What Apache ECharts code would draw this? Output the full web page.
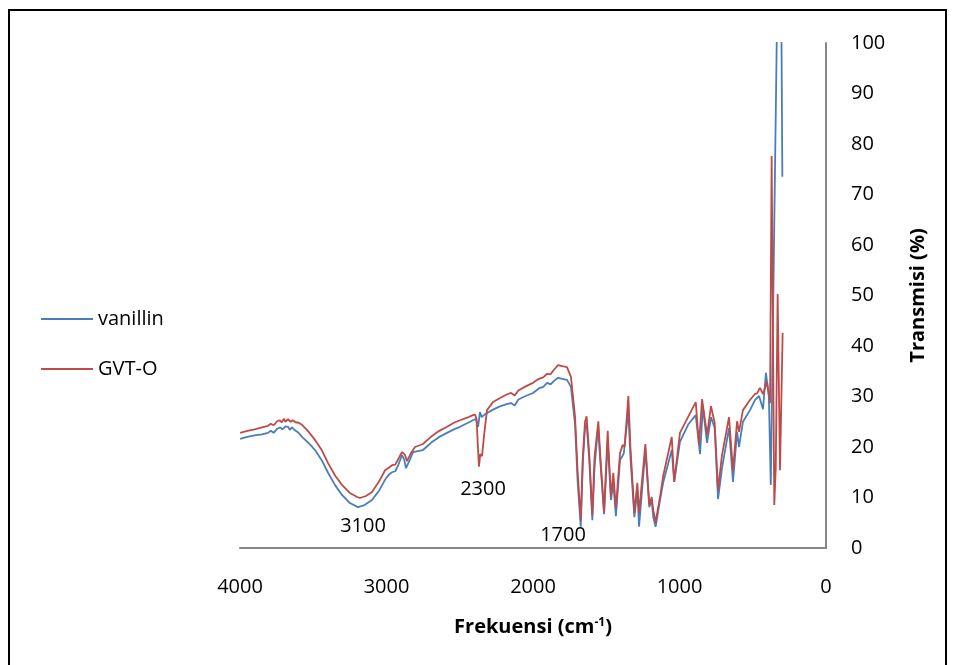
<!DOCTYPE html>
<html>
<head>
<meta charset="utf-8">
<script src="https://cdn.jsdelivr.net/npm/echarts@6/dist/echarts.min.js"></script>
<style>
  html, body { margin: 0; padding: 0; background: #fff; }
  #chart { width: 953px; height: 665px; }
</style>
</head>
<body>
<div id="chart"></div>
<script>
// FTIR spectra, wavenumber (cm-1) vs transmission (%)
var vanillinX = [3999, 3950, 3900, 3850, 3809, 3790, 3770, 3747, 3725, 3710, 3690, 3672, 3660, 3645, 3625, 3600,
  3577, 3540, 3510, 3488, 3440, 3399, 3350, 3304, 3250, 3195, 3150, 3099, 3050, 3010, 2985, 2962, 2940, 2920,
  2894, 2880, 2867, 2840, 2819, 2751, 2720, 2689, 2640, 2587, 2540, 2498, 2450, 2410, 2390, 2375, 2362, 2350,
  2328, 2273, 2230, 2180, 2150, 2137, 2125, 2100, 2050, 2000, 1960, 1930, 1904, 1880, 1860, 1829, 1800, 1768,
  1741, 1713, 1695, 1674, 1660, 1645, 1634, 1615, 1595, 1580, 1556, 1540, 1515, 1490, 1480, 1468, 1452, 1434,
  1406, 1393, 1380, 1349, 1335, 1308, 1288, 1276, 1233, 1206, 1190, 1179, 1163, 1133, 1111, 1053, 1036, 997,
  940, 889, 860, 840, 812, 785, 760, 737, 710, 662, 635, 607, 594, 567, 519, 485, 457, 430, 410, 390, 377,
  336, 310, 298]
var vanillinT = [21.6, 22.0, 22.3, 22.5, 22.8, 23.2, 22.8, 23.6, 23.9, 23.5, 24.1, 24.0, 23.4, 23.9, 23.3, 22.8,
  22.0, 21.0, 20.1, 19.4, 17.3, 14.9, 12.4, 10.5, 8.9, 8.1, 8.5, 9.5, 11.4, 13.5, 14.5, 15.0, 15.2, 16.4,
  18.4, 17.6, 15.8, 17.5, 19.0, 19.4, 20.2, 21.0, 22.0, 22.8, 23.5, 24.0, 24.7, 25.3, 25.5, 24.0, 26.9, 25.9,
  26.5, 27.4, 28.0, 28.5, 28.7, 28.4, 28.2, 29.4, 30.1, 30.7, 31.6, 31.9, 32.7, 32.4, 33.0, 33.7, 33.5, 33.3,
  31.9, 24.5, 13.0, 4.2, 17.0, 23.8, 24.7, 17.0, 5.5, 16.0, 24.0, 17.0, 6.7, 21.0, 16.0, 9.5, 12.9, 6.3,
  17.5, 18.0, 18.8, 27.3, 18.0, 6.1, 11.5, 4.2, 19.4, 8.1, 9.5, 6.1, 4.2, 9.5, 13.0, 19.4, 13.1, 21.0,
  24.5, 26.3, 18.6, 27.9, 20.8, 25.9, 23.8, 9.7, 15.8, 23.8, 13.1, 23.0, 20.0, 25.0, 27.3, 29.3, 30.1, 27.5, 34.7, 30.0, 12.5,
  101, 130, 73.5]

var gvtoX = [3999, 3950, 3900, 3850, 3809, 3790, 3770, 3747, 3730, 3715, 3700, 3690, 3672, 3655, 3640, 3620,
  3600, 3577, 3540, 3510, 3488, 3440, 3399, 3350, 3304, 3250, 3200, 3181, 3140, 3099, 3050, 3010, 2985, 2962,
  2940, 2920, 2894, 2875, 2860, 2835, 2805, 2751, 2720, 2689, 2640, 2587, 2540, 2498, 2450, 2410, 2395, 2385,
  2375, 2369, 2360, 2355, 2348, 2335, 2314, 2273, 2230, 2180, 2150, 2137, 2125, 2100, 2050, 2000, 1960, 1930,
  1904, 1880, 1860, 1829, 1800, 1768, 1741, 1713, 1695, 1674, 1660, 1645, 1634, 1615, 1595, 1580, 1554, 1540,
  1515, 1490, 1480, 1468, 1452, 1434, 1406, 1388, 1375, 1349, 1335, 1308, 1288, 1276, 1233, 1206, 1190, 1179,
  1163, 1133, 1111, 1053, 1036, 997, 940, 889, 867, 846, 812, 785, 760, 737, 710, 662, 635, 607, 594, 567,
  519, 485, 470, 451, 430, 403, 382, 371, 353, 343, 330, 314, 296]
var gvtoT = [22.8, 23.2, 23.5, 23.9, 24.2, 24.6, 24.3, 25.1, 25.3, 24.9, 25.6, 25.0, 25.5, 25.0, 25.3, 24.9,
  24.8, 24.4, 23.3, 22.2, 21.4, 19.3, 16.8, 14.3, 12.5, 10.9, 10.1, 9.9, 10.3, 11.1, 13.2, 15.4, 15.9, 16.4,
  16.5, 17.6, 19.0, 18.5, 17.2, 18.7, 20.0, 20.6, 21.4, 22.2, 23.2, 24.0, 24.8, 25.3, 25.8, 26.3, 26.4, 25.5,
  19.5, 16.1, 18.6, 18.8, 18.2, 22.0, 27.3, 28.9, 29.6, 30.4, 30.7, 30.6, 30.2, 31.2, 32.0, 32.7, 33.5, 33.8,
  34.5, 34.4, 35.2, 36.2, 36.0, 35.8, 33.9, 26.0, 15.0, 5.5, 18.0, 25.0, 26.1, 18.0, 6.5, 18.0, 25.1, 18.0,
  7.1, 23.2, 17.0, 10.1, 14.9, 7.9, 18.8, 20.4, 20.0, 30.1, 20.0, 6.9, 12.9, 6.9, 20.6, 8.5, 10.1, 7.5,
  5.1, 10.1, 14.3, 22.0, 13.1, 22.8, 26.0, 28.9, 20.4, 29.5, 22.4, 28.1, 24.8, 11.5, 18.4, 25.9, 15.4, 25.1, 23.0, 27.3,
  29.3, 30.5, 30.6, 31.7, 30.5, 32.9, 28.7, 77.6, 8.5, 15.8, 50.3, 15.4, 42.6]

var peakNames = ['3100', '2300', '1700']
var peakX = [3160, 2341, 1795]
var peakY = [4.2, 11.7, 2.6]

var xTicks = [0, 1000, 2000, 3000, 4000]
var yTicks = [0, 10, 20, 30, 40, 50, 60, 70, 80, 90, 100]

function pairs(xs, ys) {
  return xs.map(function (x, i) { return [x, ys[i]] })
}

var font = 'Open Sans'
var chart = echarts.init(document.getElementById('chart'))

chart.setOption({
  animation: false,
  color: ['#4a7ebb', '#be4b48'],
  textStyle: { fontFamily: font },
  graphic: [{
    type: 'rect',
    shape: { x: 9, y: 10, width: 937, height: 700 },
    style: { fill: 'none', stroke: '#000', lineWidth: 2 },
    silent: true
  }],
  legend: {
    orient: 'vertical',
    left: 36,
    top: 304,
    icon: 'rect',
    itemWidth: 52,
    itemHeight: 2,
    itemGap: 30,
    textStyle: { fontSize: 20, lineHeight: 20, color: '#000', fontFamily: font },
    data: ['vanillin', 'GVT-O']
  },
  grid: {
    left: 240,
    right: 127,
    top: 43,
    bottom: 117
  },
  xAxis: {
    type: 'value',
    inverse: true,
    min: xTicks[0],
    max: xTicks[xTicks.length - 1],
    interval: 1000,
    name: '{a|Frekuensi (cm}{s|-1}{a|)}',
    nameLocation: 'middle',
    nameGap: 69,
    nameTextStyle: {
      rich: {
        a: { fontSize: 20, fontWeight: 'bold', color: '#000', fontFamily: font },
        s: { fontSize: 12, fontWeight: 'bold', color: '#000', fontFamily: font, verticalAlign: 'top', lineHeight: 14 }
      }
    },
    axisLine: { lineStyle: { color: '#868686', width: 2 } },
    axisTick: { show: false },
    splitLine: { show: false },
    axisLabel: {
      fontSize: 20, color: '#000', margin: 29, fontFamily: font,
      formatter: function (v) { return String(v) }
    }
  },
  yAxis: {
    type: 'value',
    position: 'right',
    min: yTicks[0],
    max: yTicks[yTicks.length - 1],
    interval: 10,
    name: 'Transmisi (%)',
    nameLocation: 'middle',
    nameRotate: 90,
    nameGap: 82,
    nameTextStyle: { fontSize: 20, fontWeight: 'bold', color: '#000', fontFamily: font },
    axisLine: { show: true, lineStyle: { color: '#868686', width: 2 } },
    axisTick: { show: false },
    splitLine: { show: false },
    axisLabel: {
      fontSize: 20, color: '#000', margin: 25, fontFamily: font,
      formatter: function (v) { return String(v) }
    }
  },
  series: [
    {
      name: 'vanillin',
      type: 'line',
      symbol: 'none',
      clip: true,
      lineStyle: { width: 1.8 },
      data: pairs(vanillinX, vanillinT),
      markPoint: {
        symbol: 'circle',
        symbolSize: 0,
        itemStyle: { color: 'rgba(0,0,0,0)' },
        label: {
          show: true,
          position: 'inside',
          formatter: '{b}',
          color: '#000',
          fontSize: 20,
          fontFamily: font
        },
        data: peakNames.map(function (n, i) {
          return { name: n, coord: [peakX[i], peakY[i]] }
        })
      }
    },
    {
      name: 'GVT-O',
      type: 'line',
      symbol: 'none',
      clip: true,
      lineStyle: { width: 1.8 },
      data: pairs(gvtoX, gvtoT)
    }
  ]
})
</script>
</body>
</html>
